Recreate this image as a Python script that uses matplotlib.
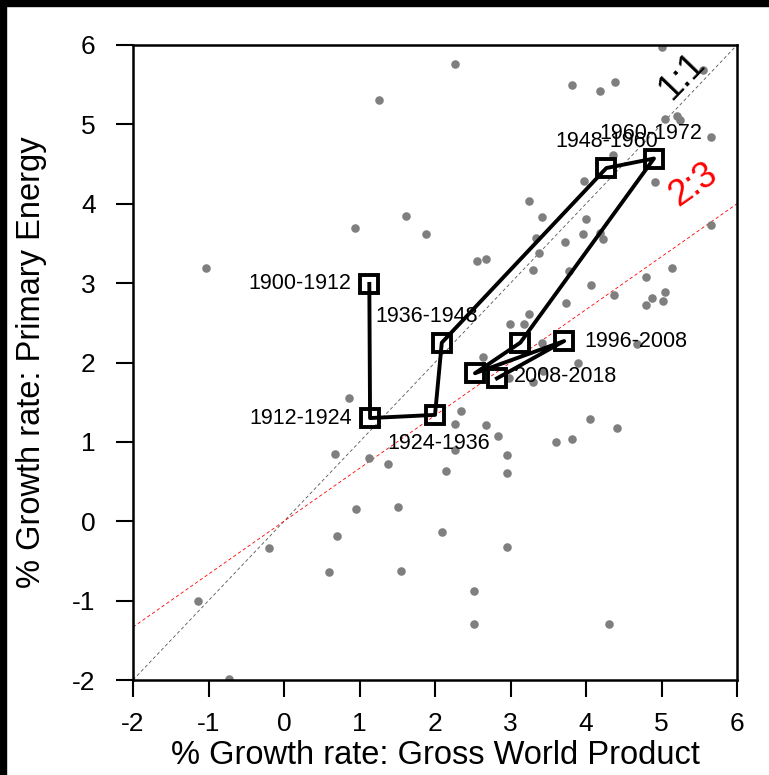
# -*- coding: utf-8 -*-
# GWP growth vs primary energy growth, 12-year periods over yearly points
import matplotlib
matplotlib.use('Agg')
import matplotlib.pyplot as plt
from matplotlib.patches import Rectangle

# yearly growth rates (gray points)
gwp_year = [1.26, -1.03, 0.94, 1.61, 1.88, 5.0, 2.27, 5.55, 3.82, 4.19, 4.39, 5.21, 5.05,
            5.25, 5.65, 4.36, 4.91, 3.98, 3.24, 3.42, 4.00, 3.96, 4.18, 4.23, 3.72, 3.34,
            3.38, 5.65, 2.67, 2.55, 3.30, 3.78, 5.14, 4.80, 4.07, 4.37, 5.05, 4.88, 5.02,
            4.80, 3.73, 3.25, 2.99, 3.18, 4.67, 3.42, 2.64, 3.90, 2.98, 3.30, 3.43, 2.35,
            2.27, 2.68, 2.84, 2.26, 2.95, 2.14, 2.95, 3.60, 3.82, 4.05, 4.41, 2.09, 2.96,
            2.51, 2.51, 4.30, 0.86, 0.68, 1.13, 1.38, 0.95, 1.51, 0.70, -0.20, 0.59, 1.55,
            -1.14, -0.73]
pe_year = [5.31, 3.19, 3.70, 3.84, 3.62, 5.98, 5.76, 5.69, 5.50, 5.42, 5.53, 5.11, 5.07,
           5.05, 4.84, 4.61, 4.27, 4.29, 4.03, 3.83, 3.81, 3.62, 3.63, 3.56, 3.52, 3.57,
           3.38, 3.73, 3.31, 3.28, 3.17, 3.15, 3.19, 3.08, 2.98, 2.85, 2.89, 2.81, 2.78,
           2.73, 2.75, 2.61, 2.49, 2.49, 2.23, 2.24, 2.07, 2.00, 1.81, 1.75, 1.89, 1.39,
           1.23, 1.21, 1.08, 0.90, 0.83, 0.63, 0.61, 1.00, 1.04, 1.29, 1.18, -0.14, -0.33,
           -0.88, -1.30, -1.30, 1.55, 0.85, 0.80, 0.72, 0.15, 0.18, -0.19, -0.34, -0.64, -0.63,
           -1.00, -1.99]

# 12-year period averages
periods = ['1900-1912', '1912-1924', '1924-1936', '1936-1948', '1948-1960', '1960-1972',
           '1972-1984', '1984-1996', '1996-2008', '2008-2018']
gwp_per = [1.13, 1.14, 2.00, 2.09, 4.27, 4.90, 3.13, 2.53, 3.71, 2.82]
pe_per = [2.99, 1.30, 1.34, 2.25, 4.45, 4.57, 2.25, 1.865, 2.27, 1.80]
show_label = [True, True, True, True, True, True, False, False, True, True]

plt.rcParams['font.family'] = ['Liberation Sans', 'DejaVu Sans']
plt.rcParams['axes.unicode_minus'] = False

fig = plt.figure(figsize=(7.69, 7.75), dpi=100)
ax = fig.add_axes([133 / 769, 1 - 680 / 775, 604 / 769, 635 / 775])

ax.scatter(gwp_year, pe_year, s=38, color='#7f7f7f', linewidths=0, zorder=2)

ax.plot([-2, 6], [-2, 6], color='#555555', lw=0.6, ls=(0, (4, 3)), zorder=1)
ax.plot([-2, 6], [-2 * 2 / 3, 6 * 2 / 3], color='red', lw=0.6, ls=(0, (4, 3)), zorder=1)
ax.text(5.27, 5.6, '1:1', fontsize=26, rotation=46, ha='center', va='center')
ax.text(5.42, 4.24, '2:3', fontsize=26, rotation=35, ha='center', va='center', color='red')

ax.plot(gwp_per, pe_per, color='black', lw=2.8, zorder=3,
        marker='s', ms=12.5, mfc='none', mec='black', mew=2.8)

# label placement per period
offs = {'1900-1912': (-0.24, 0.0, 'right', 'center'),
        '1912-1924': (-0.24, 0.0, 'right', 'center'),
        '1924-1936': (0.05, -0.36, 'center', 'center'),
        '1936-1948': (-0.20, 0.33, 'center', 'center'),
        '1948-1960': (0.0, 0.34, 'center', 'center'),
        '1960-1972': (-0.04, 0.31, 'center', 'center'),
        '1996-2008': (0.27, 0.0, 'left', 'center'),
        '2008-2018': (0.23, 0.02, 'left', 'center')}
for p, x, y, s in zip(periods, gwp_per, pe_per, show_label):
    if not s:
        continue
    dx, dy, ha, va = offs[p]
    ax.text(x + dx, y + dy, p, fontsize=15.5, ha=ha, va=va, zorder=4)

ax.set_xlim(-2, 6)
ax.set_ylim(-2, 6)
ax.set_xticks(range(-2, 7))
ax.set_yticks(range(-2, 7))
ax.tick_params(direction='out', length=12, width=1.5, labelsize=19)
ax.tick_params(axis='x', pad=11)
ax.tick_params(axis='y', pad=15)
for sp in ax.spines.values():
    sp.set_linewidth(1.8)
ax.set_xlabel('% Growth rate: Gross World Product', fontsize=23.5, va='center')
ax.set_ylabel('% Growth rate: Primary Energy', fontsize=23.5, va='center')
ax.xaxis.set_label_coords(0.5, (680 - 755) / 635)
ax.yaxis.set_label_coords((32 - 133) / 604, 0.5)

# black frame strips at top and left edge
fig.patches.append(Rectangle((0, 1 - 6 / 775), 1, 6 / 775, transform=fig.transFigure,
                             color='black', zorder=10))
fig.patches.append(Rectangle((0, 0), 6 / 769, 1, transform=fig.transFigure,
                             color='black', zorder=10))

fig.savefig('out.png', dpi=100)
